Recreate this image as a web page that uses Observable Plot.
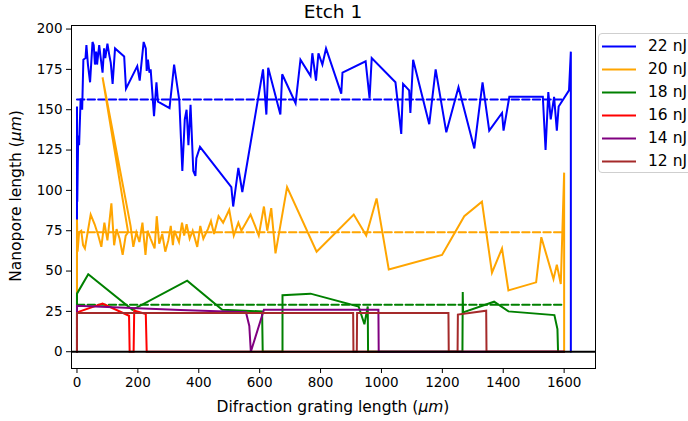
<!DOCTYPE html>
<html><head><meta charset="utf-8">
<script src="https://cdn.jsdelivr.net/npm/d3@7"></script>
<script src="https://cdn.jsdelivr.net/npm/@observablehq/plot@0.6"></script>
<style>
html,body{margin:0;padding:0;background:#fff;overflow:hidden}
#wrap{position:relative;width:688px;height:421px;overflow:hidden;font-family:"DejaVu Sans",sans-serif}
#legend{position:absolute;left:598px;top:33px;width:110px;height:140px;border:1px solid #cfcfcf;border-radius:4px;background:rgba(255,255,255,0.85);box-sizing:border-box}
.item{position:absolute;left:0;height:20px;font-size:15.5px;color:#000;white-space:nowrap}
.item svg{position:absolute;left:3px;top:9px}
.item span{position:absolute;left:49px;top:0px;line-height:20px}
</style></head><body><div id="wrap"></div>
<script>
const seriesLabels = ["22 nJ","20 nJ","18 nJ","16 nJ","14 nJ","12 nJ"];
const seriesColors = ["#0000ff","#ffa500","#008000","#ff0000","#800080","#a52a2a"];
const xTicks = [0,200,400,600,800,1000,1200,1400,1600];
const yTicks = [0,25,50,75,100,125,150,175,200];

const nj22 = [[0,0],[0,152],[1,93],[4,134],[7,128],[12,157],[17,150],[21,181],[28,182],[31,190],[36,178],[43,167],[51,192],[55,190],[59,178],[63,186],[66,178],[73,190],[78,182],[84,173],[89,188],[93,182],[100,191],[106,184],[111,179],[117,166],[125,188],[155,183],[161,163],[198,177],[206,168],[219,192],[226,188],[229,174],[233,181],[238,173],[242,175],[253,146],[261,167],[266,155],[304,151],[319,178],[336,156],[346,112],[354,144],[360,150],[366,128],[373,153],[382,112],[389,109],[392,120],[404,127],[507,102],[513,90],[530,114],[543,99],[611,175],[622,147],[628,176],[668,147],[674,172],[718,154],[734,181],[767,171],[773,185],[785,168],[793,185],[806,178],[818,188],[868,160],[872,173],[948,180],[961,157],[968,182],[1046,167],[1065,135],[1071,166],[1091,162],[1095,148],[1104,181],[1157,141],[1178,175],[1213,136],[1253,164],[1305,126],[1332,167],[1354,137],[1396,148],[1401,137],[1420,158],[1530,158],[1539,125],[1548,161],[1556,144],[1567,158],[1576,137],[1582,152],[1616,162],[1622,186],[1622,0]];

const nj20 = [[0,0],[0,82],[2,62],[7,74],[14,75],[20,66],[26,64],[45,85],[58,79],[70,72],[80,65],[90,80],[100,69],[113,92],[122,66],[130,76],[140,70],[150,60],[160,72],[168,74],[84,170],[176,78],[185,65],[195,74],[205,68],[215,80],[225,60],[232,75],[242,70],[255,64],[262,84],[270,67],[280,73],[290,62],[300,69],[308,78],[315,66],[320,75],[335,68],[345,80],[352,72],[360,79],[370,70],[380,75],[395,65],[405,78],[415,70],[430,76],[440,81],[450,73],[465,84],[480,80],[500,88],[515,72],[530,80],[540,75],[555,80],[570,85],[585,78],[597,72],[614,90],[625,75],[638,89],[652,61],[690,102],[787,62],[909,85],[950,72],[984,95],[1024,51],[1199,60],[1272,84],[1330,93],[1363,49],[1396,64],[1417,38],[1508,43],[1525,71],[1565,45],[1576,54],[1589,42],[1600,111],[1600,0]];

const nj18 = [[0,0],[0,36],[37,48],[182,26],[362,44],[477,26],[608,25],[610,0],[675,0],[675,35],[767,36],[925,28],[944,17],[955,28],[956,0],[1266,0],[1267,37],[1268,24.4],[1370,31],[1417,25],[1568,22.7],[1578,14],[1580,0]];

const nj16 = [[0,0],[0,24.4],[84,29.8],[171,22.3],[173,0],[186,0],[188,25.5],[226,23.4],[229,0],[1600,0]];

const nj14 = [[0,0],[0,28.5],[340,25.8],[555,24.5],[566,16],[571,0],[614,26],[990,26],[991,0],[1600,0]];

const nj12 = [[0,0],[0,24],[907,24],[908,0],[919,0],[920,24],[1220,24],[1221,0],[1250,0],[1251,23],[1344,25.4],[1345,0],[1600,0]];

const meanValues = [156.3, 74, 29.1];
const meanSpan = [0, 1592];

const all = [nj22, nj20, nj18, nj16, nj14, nj12];

const marks = [];
all.forEach((s, i) => {
  marks.push(Plot.line(s, {x: d => d[0], y: d => d[1], stroke: seriesColors[i], strokeWidth: 2, strokeLinejoin: "miter", strokeMiterlimit: 4}));
  if (i < meanValues.length) {
    marks.push(Plot.line(meanSpan.map(x => [x, meanValues[i]]), {x: d => d[0], y: d => d[1], stroke: seriesColors[i], strokeWidth: 2, strokeDasharray: "7.4,3.2"}));
  }
});
marks.push(Plot.ruleY([0], {stroke: "black", strokeWidth: 2}));
marks.push(Plot.frame({stroke: "black", strokeWidth: 1}));
marks.push(Plot.axisX({ticks: xTicks, tickFormat: d => String(d), tickSize: 5, tickPadding: 4, label: null, fontSize: 13.5}));
marks.push(Plot.axisY({ticks: yTicks, tickFormat: d => String(d), tickSize: 5, tickPadding: 4, label: null, fontSize: 13.5}));

const chart = Plot.plot({
  width: 688, height: 421,
  marginLeft: 71, marginRight: 93, marginTop: 25, marginBottom: 53,
  x: {domain: [-18, 1703]},
  y: {domain: [-10.4, 202.2]},
  clip: "frame",
  style: {fontFamily: "DejaVu Sans", color: "black", background: "white", overflow: "visible"},
  marks
});
document.getElementById("wrap").appendChild(chart);

const svg = d3.select(chart);
svg.append("text").attr("x", 333).attr("y", 18).attr("text-anchor", "middle")
  .attr("font-size", 18.5).attr("font-family", "DejaVu Sans").attr("fill", "black").text("Etch 1");
const xl = svg.append("text").attr("x", 333).attr("y", 412).attr("text-anchor", "middle")
  .attr("font-size", 15.5).attr("font-family", "DejaVu Sans").attr("fill", "black");
xl.append("tspan").text("Difraction grating length (");
xl.append("tspan").attr("font-style", "italic").text("μm");
xl.append("tspan").text(")");
const yl = svg.append("text").attr("transform", "translate(21,196) rotate(-90)").attr("text-anchor", "middle")
  .attr("font-size", 15.5).attr("font-family", "DejaVu Sans").attr("fill", "black");
yl.append("tspan").text("Nanopore length (");
yl.append("tspan").attr("font-style", "italic").text("μm");
yl.append("tspan").text(")");

const leg = document.createElement("div");
leg.id = "legend";
seriesLabels.forEach((lab, i) => {
  const it = document.createElement("div");
  it.className = "item";
  it.style.top = (2 + i * 23) + "px";
  it.innerHTML = `<svg width="34" height="3"><line x1="0" y1="1.5" x2="34" y2="1.5" stroke="${seriesColors[i]}" stroke-width="2.2"/></svg><span>${lab}</span>`;
  leg.appendChild(it);
});
document.getElementById("wrap").appendChild(leg);
</script></body></html>
